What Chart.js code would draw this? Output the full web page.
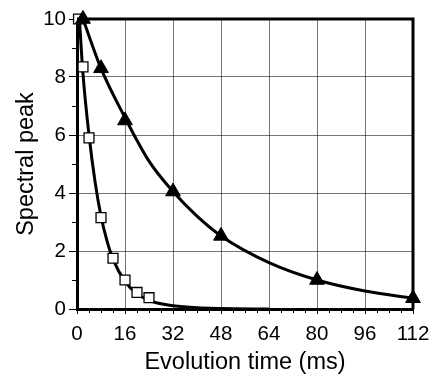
<!DOCTYPE html>
<html>
<head>
<meta charset="utf-8">
<script src="https://cdn.jsdelivr.net/npm/chart.js@4/dist/chart.umd.min.js"></script>
<style>
  body { margin: 0; background: #fff; }
  #wrap { width: 438px; height: 378px; }
</style>
</head>
<body>
<div id="wrap"><canvas id="chart"></canvas></div>
<script>
const timesSquare = [0.5, 2, 4, 8, 12, 16, 20, 24];
const peakSquare = [10, 8.35, 5.9, 3.15, 1.75, 1.0, 0.57, 0.39];
const timesTriangle = [2, 8, 16, 32, 48, 80, 112];
const peakTriangle = [10, 8.3, 6.5, 4.05, 2.52, 1.0, 0.37];

// fitted curves
const fitSquareT = [0.8, 2, 4, 6, 8, 10, 12, 16, 20, 24, 28, 32, 40, 48, 64];
const fitSquareY = [10, 8.1, 6.0, 4.4, 3.2, 2.35, 1.72, 0.95, 0.52, 0.3, 0.18, 0.11, 0.04, 0.015, 0];
const fitTriangleT = [2, 8, 16, 24, 32, 40, 48, 64, 80, 96, 112];
const fitTriangleY = [10, 8.3, 6.6, 5.1, 4.05, 3.2, 2.52, 1.6, 1.0, 0.62, 0.37];

const xTicks = [0, 16, 32, 48, 64, 80, 96, 112];
const yTicks = [0, 2, 4, 6, 8, 10];
const xMinorStep = 4;
const yMinorStep = 1;

const pts = (xs, ys) => xs.map((x, i) => ({ x: x, y: ys[i] }));

const frame = {
  id: "frame",
  afterDraw(chart) {
    const { ctx, chartArea: a, scales } = chart;
    ctx.save();
    ctx.strokeStyle = "#000";
    // minor ticks
    ctx.lineWidth = 1;
    ctx.beginPath();
    for (let v = 0; v <= 112; v += xMinorStep) {
      if (v % 16 === 0) continue;
      const px = Math.round(scales.x.getPixelForValue(v)) + 0.5;
      ctx.moveTo(px, a.bottom);
      ctx.lineTo(px, a.bottom + 4);
    }
    for (let v = 0; v <= 10; v += yMinorStep) {
      if (v % 2 === 0) continue;
      const py = Math.round(scales.y.getPixelForValue(v)) + 0.5;
      ctx.moveTo(a.left, py);
      ctx.lineTo(a.left - 5, py);
    }
    ctx.stroke();
    // top and right frame
    ctx.lineWidth = 3;
    ctx.beginPath();
    ctx.moveTo(a.left, a.top);
    ctx.lineTo(a.right, a.top);
    ctx.lineTo(a.right, a.bottom);
    ctx.stroke();
    ctx.restore();
  }
};

const tickFont = { family: "'Liberation Sans', Arial, sans-serif", size: 20.5 };
const titleFont = { family: "'Liberation Sans', Arial, sans-serif", size: 23.5 };

new Chart(document.getElementById("chart"), {
  type: "scatter",
  data: {
    datasets: [
      {
        data: pts(timesTriangle, peakTriangle),
        pointStyle: "triangle",
        pointRadius: 8.5,
        backgroundColor: "#000",
        borderColor: "#000",
        borderWidth: 1,
        showLine: false,
        clip: false
      },
      {
        data: pts(timesSquare, peakSquare),
        pointStyle: "rect",
        pointRadius: 7,
        backgroundColor: "#fff",
        borderColor: "#000",
        borderWidth: 1.3,
        showLine: false,
        clip: false
      },
      {
        data: pts(fitTriangleT, fitTriangleY),
        showLine: true,
        pointRadius: 0,
        borderColor: "#000",
        borderWidth: 3,
        cubicInterpolationMode: "monotone",
        clip: false
      },
      {
        data: pts(fitSquareT, fitSquareY),
        showLine: true,
        pointRadius: 0,
        borderColor: "#000",
        borderWidth: 3,
        cubicInterpolationMode: "monotone",
        clip: false
      }
    ]
  },
  options: {
    responsive: true,
    maintainAspectRatio: false,
    animation: false,
    events: [],
    layout: { padding: { left: 0, right: 25, top: 19, bottom: 0 } },
    plugins: { legend: { display: false }, tooltip: { enabled: false } },
    scales: {
      x: {
        type: "linear",
        min: 0,
        max: 112,
        afterBuildTicks: (s) => { s.ticks = xTicks.map((v) => ({ value: v })); },
        afterFit: (s) => { s.height = 69; },
        ticks: { font: tickFont, color: "#000", padding: 8, maxRotation: 0 },
        grid: { color: "rgba(0,0,0,0.55)", lineWidth: 1, tickLength: 5, tickColor: "#000" },
        border: { color: "#000", width: 3 },
        title: { display: true, text: "Evolution time (ms)", font: titleFont, color: "#000", padding: { top: 0, bottom: 1 } }
      },
      y: {
        type: "linear",
        min: 0,
        max: 10,
        afterBuildTicks: (s) => { s.ticks = yTicks.map((v) => ({ value: v })); },
        afterFit: (s) => { s.width = 77; },
        ticks: { font: tickFont, color: "#000", padding: 3 },
        grid: { color: "rgba(0,0,0,0.55)", lineWidth: 1, tickLength: 8, tickColor: "#000" },
        border: { color: "#000", width: 3 },
        title: { display: true, text: "Spectral peak", font: titleFont, color: "#000", padding: { top: 12, bottom: 0 } }
      }
    }
  },
  plugins: [frame]
});
</script>
</body>
</html>
